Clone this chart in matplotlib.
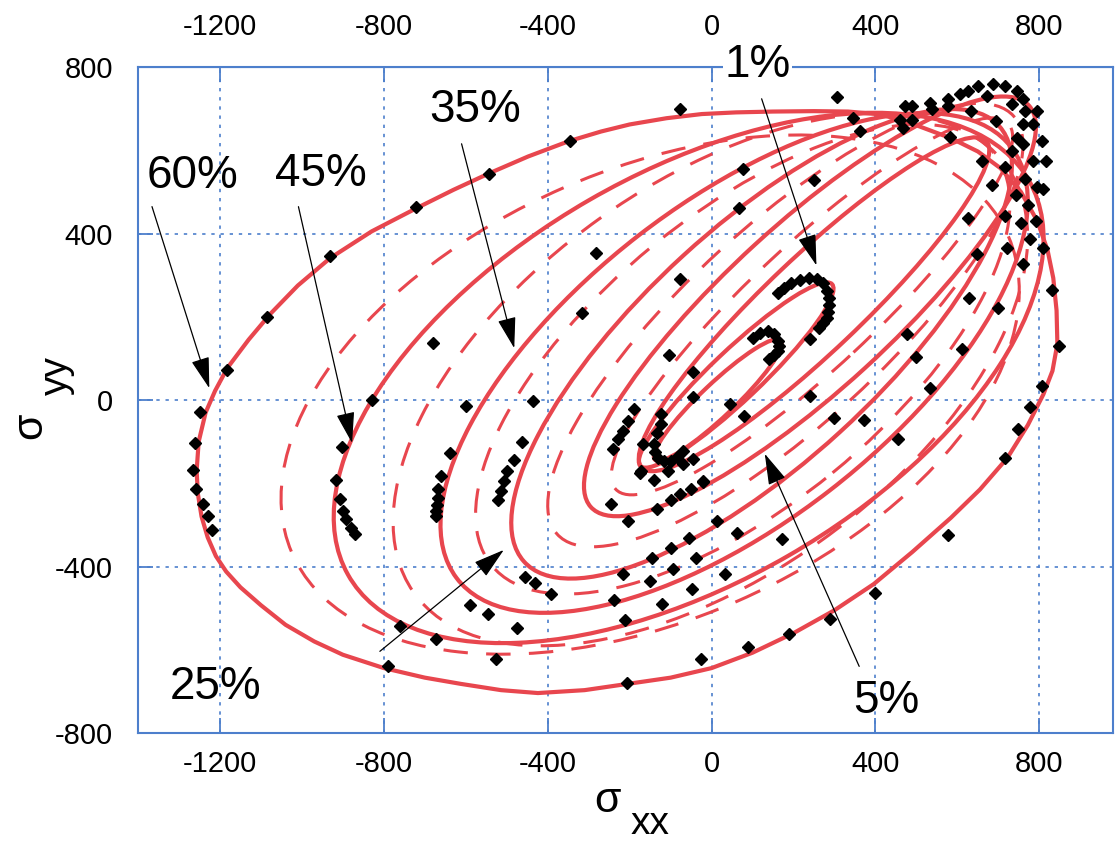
import matplotlib
matplotlib.use("Agg")
import matplotlib.pyplot as plt
from matplotlib.patches import Ellipse

# 60% curve, read point by point (closed)
s60_x = [-1257, -1252, -1235, -1212, -1182, -1130, -1077, -1010, -931, -830, -720, -630,
         -542, -448, -348, -270, -200, -110, -24, 60, 150, 250, 333, 414, 500, 584, 650,
         705, 755, 795, 820, 834, 842, 844, 832, 810, 772, 722, 655, 584, 490, 396, 300,
         200, 100, 0, -100, -205, -310, -424, -514, -612, -700, -800, -900, -970, -1040,
         -1100, -1150, -1185, -1210, -1230, -1245, -1254, -1257]
s60_y = [-170, -100, -30, 22, 77, 145, 207, 275, 341, 405, 461, 505,
         545, 585, 622, 645, 662, 677, 687, 691, 693, 694, 693, 686, 660, 629, 597,
         557, 500, 430, 360, 293, 215, 135, 70, 14, -60, -139, -215, -283, -365, -442, -505,
         -560, -607, -644, -667, -682, -697, -704, -697, -682, -667, -644, -612, -580, -540,
         -493, -450, -412, -375, -330, -280, -225, -170]

# other solid curves (45%, 35%, 25%, 5%, inner ones): centre, full width/height, tilt (deg)
sol_cx = [-56, 55, 122, 240, 250, 60, 15]
sol_cy = [53, 89, 135, 225, 230, 60, 0]
sol_w = [1913, 1704, 1562, 1440, 1150, 640, 420]
sol_h = [983, 770, 571, 400, 230, 120, 80]
sol_ang = [29.6, 37.3, 42.0, 42.0, 43.0, 43.0, 43.0]

# dashed curves
dash_cx = [-150, -3, 76, 180, 245]
dash_cy = [13, 49, 98, 180, 225]
dash_w = [1907, 1773, 1576, 1500, 1300]
dash_h = [1080, 944, 700, 480, 300]
dash_ang = [23.4, 35.1, 38.8, 42.0, 42.5]

# measured points
pts = [
    (-76, 699), (307, 728), (-346, 622), (-544, 543), (-722, 464), (-932, 346), (-1085, 199),
    (-1183, 72), (-1249, -29), (-1261, -103), (-1266, -168), (-1259, -214), (-1241, -250),
    (-1229, -279), (-1220, -312), (-790, -639), (-761, -543), (-673, -574), (-600, -14),
    (-829, 0), (-902, -113), (-917, -192), (-907, -238), (-900, -267), (-893, -286),
    (-880, -307), (-871, -322), (-680, 137), (-437, -2), (-639, -127), (-661, -183),
    (-668, -214), (-668, -235), (-671, -252), (-673, -267), (-673, -279), (-463, -101),
    (-483, -144), (-500, -171), (-507, -195), (-515, -219), (-522, -240), (-456, -425),
    (-432, -440), (-590, -492), (-546, -514), (-476, -548), (-527, -622), (-393, -466),
    (-207, -680), (-27, -622), (88, -593), (190, -562), (288, -526), (398, -463), (578, -324),
    (-217, -418), (-239, -480), (-212, -529), (-120, -490), (-151, -435), (-49, -454),
    (-95, -406), (-146, -380), (-100, -356), (-56, -332), (-37, -380), (32, -418), (12, -291),
    (61, -320), (173, -334), (-246, -250), (-205, -291), (-134, -262), (-100, -240),
    (-76, -226), (-51, -214), (-22, -197), (-176, -175), (-141, -192), (-283, 353), (-76, 291),
    (-317, 209), (-105, 108), (-46, 67), (-46, 7), (46, -10), (78, -38), (241, 10), (298, -43),
    (241, 147), (161, 257), (-190, -22), (-205, -50), (-217, -74), (-229, -94), (-241, -118),
    (-168, -106), (-173, -171), (-107, -171), (-71, -154), (-46, -142), (-22, -194),
    (-124, -34), (76, 555), (66, 461), (251, 529),
    (344, 678), (361, 646), (473, 706), (490, 706), (461, 673), (488, 673), (468, 654),
    (534, 714), (539, 699), (576, 723), (578, 706), (607, 735), (627, 742), (651, 754),
    (688, 759), (717, 754), (746, 742), (759, 723), (734, 711), (673, 730), (632, 694),
    (766, 694), (795, 694), (759, 663), (785, 663), (695, 670), (583, 632), (746, 629),
    (759, 615), (807, 622), (661, 574), (734, 598), (785, 574), (815, 574), (715, 560),
    (685, 517), (766, 531), (795, 512), (810, 507), (744, 492), (773, 468), (715, 442),
    (754, 425), (793, 430), (627, 437), (776, 387), (810, 365), (722, 365), (649, 351),
    (759, 327), (832, 264), (629, 245), (700, 221), (478, 159), (498, 103), (612, 123),
    (849, 130), (534, 29), (807, 34), (776, -17), (371, -48), (454, -94), (749, -70), (717, -139),
    # dense 1% arc
    (176, 269), (195, 280), (215, 288), (237, 292), (258, 291), (272, 280), (282, 263),
    (286, 245), (287, 228), (285, 212), (281, 197), (272, 185), (261, 173),
    # inner arc
    (102, 149), (118, 160), (137, 166), (152, 158), (163, 142), (164, 130), (161, 118),
    (152, 107), (139, 98),
    # U cluster
    (-124, -58), (-133, -80), (-141, -106), (-138, -124), (-132, -139), (-117, -146),
    (-100, -147), (-85, -138), (-71, -123),
]

labels = ["60%", "45%", "35%", "1%", "25%", "5%"]
label_xy = [(-1268, 538), (-954, 543), (-578, 697), (112, 805), (-1210, -690), (427, -723)]
arrow_tail = [(-1368, 471), (-1010, 471), (-612, 622), (120, 730), (-815, -608), (363, -646)]
arrow_head = [(-1224, 22), (-876, -110), (-480, 118), (258, 317), (-502, -356), (127, -123)]

xticks = [-1200, -800, -400, 0, 400, 800]
yticks = [-800, -400, 0, 400, 800]

red = "#e8464e"
blue = "#4d7fcc"
plt.rcParams["font.family"] = ["Liberation Sans", "DejaVu Sans"]
plt.rcParams["axes.unicode_minus"] = False

fig = plt.figure(figsize=(11.16, 8.44), dpi=100)
ax = fig.add_axes([0.1237, 0.1315, 0.8737, 0.7891])
ax.set_xlim(-1400, 980)
ax.set_ylim(-800, 800)

ax.plot(s60_x, s60_y, color=red, lw=3, zorder=3, solid_joinstyle="round")
for i in range(len(sol_cx)):
    ax.add_patch(Ellipse((sol_cx[i], sol_cy[i]), sol_w[i], sol_h[i], angle=sol_ang[i],
                         fill=False, ec=red, lw=3, zorder=3))
for i in range(len(dash_cx)):
    ax.add_patch(Ellipse((dash_cx[i], dash_cy[i]), dash_w[i], dash_h[i], angle=dash_ang[i],
                         fill=False, ec=red, lw=2.2, ls=(0, (8, 6)), zorder=3))

px = [p[0] for p in pts]
py = [p[1] for p in pts]
ax.plot(px, py, "D", color="k", ms=6.3, ls="none", zorder=5)

for i in range(len(labels)):
    ax.annotate("", xy=arrow_head[i], xytext=arrow_tail[i],
                arrowprops=dict(arrowstyle="-|>,head_length=0.75,head_width=0.22",
                                color="k", lw=0.9, mutation_scale=26), zorder=6)
    bb = dict(fc="white", ec="none", pad=1) if labels[i] == "1%" else None
    ax.text(label_xy[i][0], label_xy[i][1], labels[i], fontsize=33, ha="center",
            va="center", bbox=bb, clip_on=False, zorder=7)

ax.set_xticks(xticks)
ax.set_yticks(yticks)
ax.grid(True, color=blue, ls=(0, (2, 3.5)), lw=1.2)
ax.set_axisbelow(True)
for s in ax.spines.values():
    s.set_color(blue)
    s.set_linewidth(1.5)
ax.tick_params(direction="in", length=11, width=1.3, color=blue, labelsize=21)
ax.tick_params(axis="x", pad=12)
ax.tick_params(axis="y", pad=18)
top = ax.secondary_xaxis("top")
top.set_xticks(xticks)
top.tick_params(direction="in", length=11, width=1.3, color=blue, labelsize=21, pad=19)
top.spines["top"].set_color(blue)

fig.text(0.544, 0.051, "σ", fontsize=31, ha="center", va="center")
fig.text(0.5825, 0.024, "xx", fontsize=28, ha="center", va="center")
fig.text(0.027, 0.495, "σ", fontsize=31, ha="center", va="center", rotation=90)
fig.text(0.051, 0.555, "yy", fontsize=28, ha="center", va="center", rotation=90)

fig.savefig("out.png", dpi=100)
